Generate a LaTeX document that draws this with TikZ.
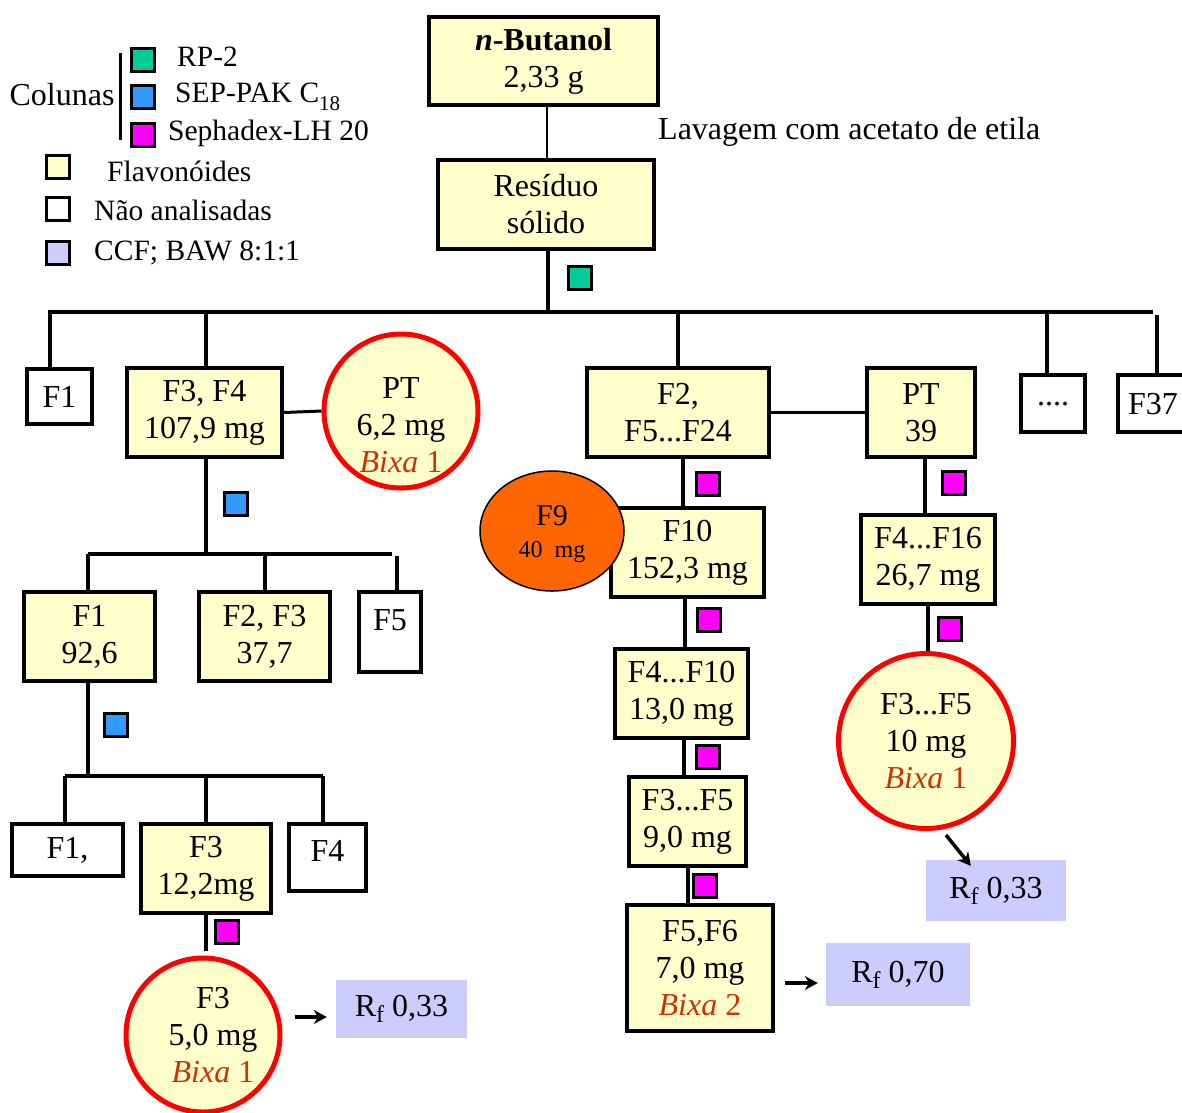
\documentclass[tikz,border=0pt]{standalone}
\usepackage{fontspec}
\setmainfont{Liberation Serif}
\usetikzlibrary{arrows.meta,shapes.geometric}
\definecolor{yel}{HTML}{FFFFCC}
\definecolor{grn}{HTML}{00CC99}
\definecolor{blu}{HTML}{3399FF}
\definecolor{mag}{HTML}{FF00FF}
\definecolor{lav}{HTML}{CCCCFF}
\definecolor{org}{HTML}{FF6600}
\definecolor{bix}{HTML}{CC3300}
\newcommand{\bixa}[1]{\textcolor{bix}{\textit{Bixa} #1}}
\newcommand{\rfsub}{R\raisebox{-0.18em}{\fontsize{24}{24}\selectfont f}}
\begin{document}
\begin{tikzpicture}[x=1pt,y=-1pt,
  every node/.style={font=\fontsize{32}{37}\selectfont, inner sep=0pt},
  yb/.style={draw, line width=4pt, fill=yel, align=center},
  wb/.style={draw, line width=4pt, fill=white, align=center},
  rc/.style={circle, draw=red, line width=5pt, fill=yel, align=center},
  ln/.style={line width=4pt},
  sq/.style={draw, line width=3pt, minimum size=23pt},
  lg/.style={anchor=west, font=\fontsize{29.5}{33}\selectfont},
  rfb/.style={fill=lav},
  arr/.style={line width=3.5pt, -{Stealth[length=13pt,width=14pt]}}
]
\useasboundingbox (0,0) rectangle (1182,1112);
\clip (0,0) rectangle (1182,1112);

% legend
\node[font=\fontsize{32}{36}\selectfont] (col) at (62,95) {Colunas};
\draw[line width=3pt] (120,53) -- (120,140);
\node[sq, fill=grn] (lsq1) at (143,59.5) {};
\node[sq, fill=blu] (lsq2) at (143,96.5) {};
\node[sq, fill=mag] (lsq3) at (143,135) {};
\node[sq, fill=yel] (lsq4) at (57.5,167) {};
\node[sq, fill=white] (lsq5) at (57.5,208.5) {};
\node[sq, fill=lav] (lsq6) at (57.5,253) {};
\node[lg] (lt1) at (177,57) {RP-2};
\node[lg] (lt2) at (175,97) {SEP-PAK C\raisebox{-0.25em}{\fontsize{21}{21}\selectfont 18}};
\node[lg] (lt3) at (168,133) {Sephadex-LH 20};
\node[lg] (lt4) at (107,171) {Flavonóides};
\node[lg] (lt5) at (94,210) {Não analisadas};
\node[lg] (lt6) at (94,253) {CCF; BAW 8:1:1};

% top
\node[yb, minimum width=229, minimum height=88] (but) at (543.5,61) {\textbf{\textit{n}-Butanol}\\2,33 g};
\node[yb, minimum width=216, minimum height=89] (res) at (546,204.5) {Resíduo\\sólido};
\node[anchor=west, font=\fontsize{32}{36}\selectfont] (lav) at (658,132) {Lavagem com acetato de etila};
\draw[line width=1.5pt] ([xshift=1pt]res.north |- but.south) -- ([xshift=1pt]res.north);
\coordinate (b1L) at (48,312);
\coordinate (b1R) at (1153,312);
\draw[ln] ([xshift=2pt]res.south) -- ([xshift=2pt]res.south |- b1L);
\node[sq, fill=grn] (sq1) at (579.5,277.5) {};
\draw[ln] (b1L) -- (b1R);

% left branch
\node[wb, minimum width=65, minimum height=55] (f1a) at (59.5,396.5) {F1};
\draw[ln] (b1L -| 50,0) -- ([xshift=-9.5pt]f1a.north);
\node[yb, minimum width=155, minimum height=89] (f34) at (204.5,412.5) {F3, F4\\107,9 mg};
\draw[ln] ([xshift=1.5pt]f34.north) -- ([xshift=1.5pt]f34.north |- b1L);
\node[rc, minimum size=154] (pt1) at (401,411) {};
\node[align=center] (pt1t) at (401,425) {PT\\6,2 mg\\\bixa{1}};
\draw[line width=3pt] (f34.east) -- (pt1.west);
\node[sq, fill=blu] (sq2) at (235.5,504) {};
\coordinate (b2L) at (88,554);
\coordinate (b2R) at (392,554);
\draw[ln] ([xshift=1.5pt]f34.south) -- ([xshift=1.5pt]f34.south |- b2L);
\draw[ln] (b2L) -- (b2R);
\node[yb, minimum width=131, minimum height=89] (f1b) at (89.5,636.5) {F1\\92,6};
\node[yb, minimum width=131, minimum height=89] (f23) at (264.5,636.5) {F2, F3\\37,7};
\node[wb, minimum width=62, minimum height=80] (f5) at (390,632) {};
\node (f5t) at (390,620) {F5};
\draw[ln] ([xshift=-1.5pt]f1b.north) -- ([xshift=-1.5pt]f1b.north |- b2L);
\draw[ln] (f23.north) -- (f23.north |- b2L);
\coordinate (b2v) at (397,556);
\draw[ln] (b2v) -- (b2v |- f5.north);

\coordinate (b3L) at (65,776);
\coordinate (b3R) at (323,776);
\draw[ln] ([xshift=-1.5pt]f1b.south) -- ([xshift=-1.5pt]f1b.south |- b3L);
\node[sq, fill=blu] (sq3) at (115.5,724.5) {};
\draw[ln] (b3L) -- (b3R);
\node[wb, minimum width=111, minimum height=52] (f1c) at (67.5,850) {F1,};
\node[yb, minimum width=130, minimum height=89] (f3a) at (206,868.5) {F3\\12,2mg};
\node[wb, minimum width=77, minimum height=67] (f4a) at (327.5,857.5) {};
\node (f4t) at (327.5,851) {F4};
\draw[ln] (b3L) -- (b3L |- f1c.north);
\draw[ln] (f3a.north) -- (f3a.north |- b3L);
\draw[ln] (b3R) -- (b3R |- f4a.north);
\node[rc, minimum size=154] (f3c) at (203,1035) {};
\node[align=center] (f3ct) at (213,1035) {F3\\5,0 mg\\\bixa{1}};
\draw[ln, shorten >=5pt] (f3a.south) -- (f3a.south |- f3c.north);
\node[sq, fill=mag] (sq4) at (226.5,931.5) {};
\node[rfb, minimum width=131, minimum height=58] (rf1) at (401.5,1009) {\rfsub{} 0,33};
\draw[arr] ([shift={(12,-18)}]f3c.east) -- ([shift={(-9,8)}]rf1.west);

% middle branch
\node[yb, minimum width=182, minimum height=89] (f2) at (678,412.5) {F2,\\F5...F24};
\draw[ln] (f2.north) -- (f2.north |- b1L);
\node[yb, minimum width=108, minimum height=89] (pt2) at (921,412.5) {PT\\39};
\draw[line width=3.5pt] (f2.east) -- (pt2.west);
\node[wb, minimum width=64, minimum height=57] (dots) at (1053,403.5) {};
\node (dotst) at (1053,404) {....};
\coordinate (v4) at (1047,312);
\draw[ln] (v4) -- (v4 |- dots.north);
\node[wb, minimum width=76, minimum height=57] (f37) at (1156,403.5) {};
\node (f37t) at (1153,404) {F37};
\coordinate (v5) at (1157,315);
\draw[ln] (v5) -- (v5 |- f37.north);

\node[yb, minimum width=153, minimum height=89] (f10) at (687.5,552.5) {F10\\152,3 mg};
\node[ellipse, draw, line width=1.5pt, fill=org, minimum width=144, minimum height=120] (f9) at (552,531) {};
\node[align=center, font=\fontsize{30}{32}\selectfont] (f9t) at (552,534) {F9\\{\fontsize{24}{32}\selectfont 40\ \ mg}};
\draw[ln] ([xshift=5pt]f2.south) -- ([xshift=5pt]f2.south |- f10.north);
\node[sq, fill=mag] (sq5) at (707.5,483.5) {};
\node[yb, minimum width=133, minimum height=89] (f410) at (681.5,693.5) {F4...F10\\13,0 mg};
\draw[ln] ([xshift=-2.5pt]f10.south) -- ([xshift=-2.5pt]f10.south |- f410.north);
\node[sq, fill=mag] (sq6) at (709,619.5) {};
\node[yb, minimum width=117, minimum height=89] (f35a) at (687.5,821.5) {F3...F5\\9,0 mg};
\draw[ln] ([xshift=2.5pt]f410.south) -- ([xshift=2.5pt]f410.south |- f35a.north);
\node[sq, fill=mag] (sq7) at (707.5,756.5) {};
\node[yb, minimum width=146, minimum height=126] (f56) at (700,968) {F5,F6\\7,0 mg\\\bixa{2}};
\draw[ln] (f35a.south) -- (f35a.south |- f56.north);
\node[sq, fill=mag] (sq8) at (705,885.5) {};
\node[rfb, minimum width=144, minimum height=63] (rf2) at (898,974.5) {\rfsub{} 0,70};
\draw[arr] ([shift={(10,15)}]f56.east) -- ([shift={(-8,8.5)}]rf2.west);

% right branch
\node[yb, minimum width=134, minimum height=89] (f416) at (928,559.5) {F4...F16\\26,7 mg};
\draw[ln] ([xshift=4pt]pt2.south) -- ([xshift=4pt]pt2.south |- f416.north);
\node[sq, fill=mag] (sq9) at (953.5,483) {};
\node[rc, minimum size=175] (f35b) at (926,741) {F3...F5\\10 mg\\\bixa{1}};
\draw[ln] (f416.south) -- (f416.south |- f35b.north);
\node[sq, fill=mag] (sq10) at (950,629) {};
\node[rfb, minimum width=140, minimum height=61] (rf3) at (996,890.5) {\rfsub{} 0,33};
\draw[arr] ([shift={(20,4)}]f35b.south) -- ([shift={(45,6)}]rf3.north west);
\end{tikzpicture}
\end{document}
